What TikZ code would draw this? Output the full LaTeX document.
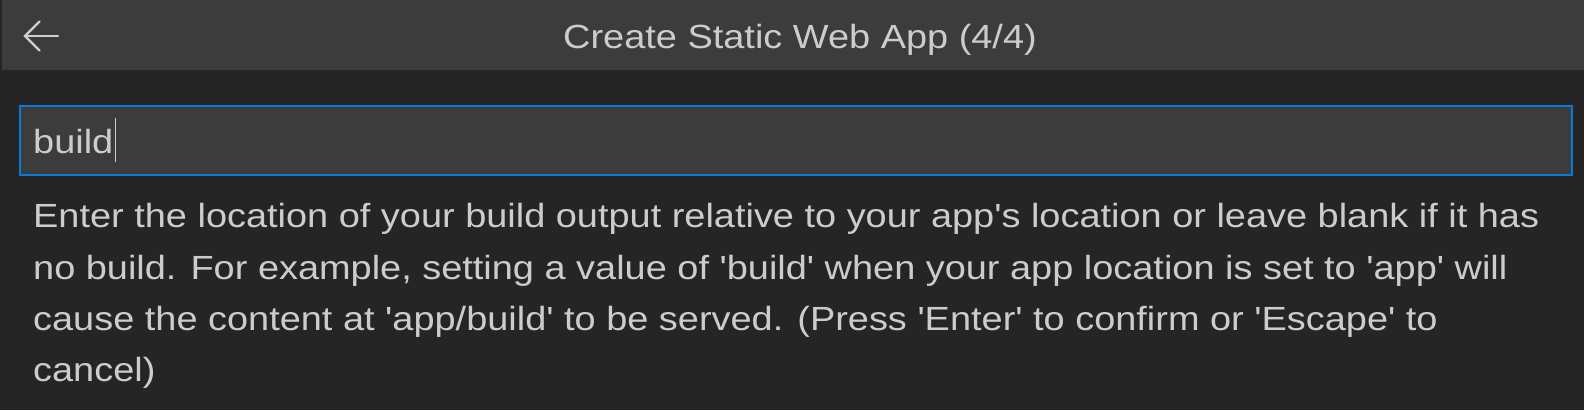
\documentclass[tikz,border=0pt]{standalone}
\usepackage{fontspec}
\newfontfamily\ui{Liberation Sans}[FakeStretch=1.132]
\usetikzlibrary{calc}
\definecolor{hatter}{HTML}{252526}
\definecolor{sav}{HTML}{3C3C3C}
\definecolor{keret}{HTML}{0A7AD4}
\definecolor{betu}{HTML}{CCCCCC}
\newcommand{\betumeret}{\ui\fontsize{33.5}{40}\selectfont}

\begin{document}
\begin{tikzpicture}[x=1pt,y=-1pt,>=stealth,
sor/.style={anchor=base west,inner sep=0,text=betu,font=\betumeret},
]

\fill[hatter] (0,0) rectangle (1584,410);
\useasboundingbox (0,0) rectangle (1584,410);

% title bar
\fill[sav] (2,0) rectangle (1584,69.5);
\node[anchor=base,inner sep=0,text=betu,font=\betumeret](title) at (800,48){Create Static Web App (4/4)};

\coordinate(back-tip) at (25,36);
\coordinate(back-end) at (58,36);
\draw[betu!95!white, line width=2.2pt, line cap=round] (back-end)--(back-tip);
\draw[betu!95!white, line width=2.2pt, line cap=round, line join=miter] ($(back-tip)+(14.5,-14.5)$)--(back-tip)--($(back-tip)+(14.5,14.5)$);

% input
\node[draw=keret, fill=sav, line width=2pt, minimum width=1552pt, minimum height=69pt, inner sep=0, anchor=north west](input) at (19,105){};
\node[sor](input-text) at (33,153){build};
\draw[betu, line width=1pt] (115,118)--(115,162);

% help text
\node[sor](line-a) at (33,227){Enter the location of your build output relative to your app's location or leave blank if it has};
\node[sor](line-b) at (33,279){no build. For example, setting a value of 'build' when your app location is set to 'app' will};
\node[sor](line-c) at (33,330){cause the content at 'app/build' to be served. (Press 'Enter' to confirm or 'Escape' to};
\node[sor](line-d) at (33,381.5){cancel)};

\end{tikzpicture}
\end{document}
